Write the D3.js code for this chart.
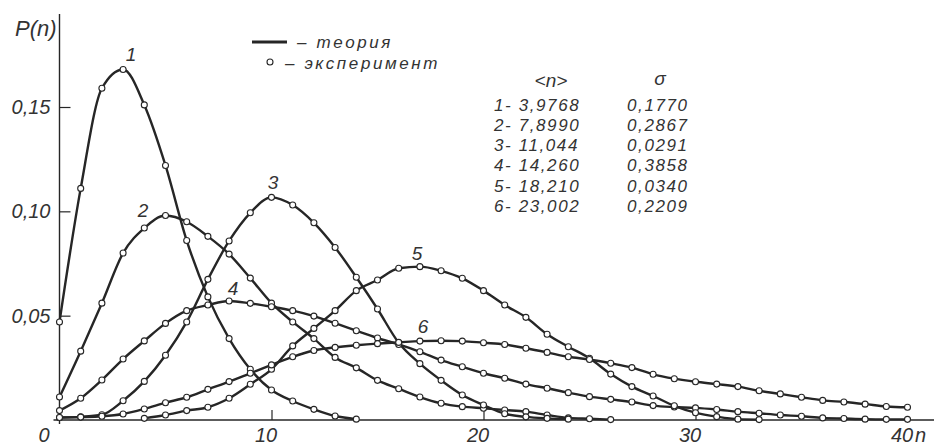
<!DOCTYPE html>
<html>
<head>
<meta charset="utf-8">
<script src="https://cdn.jsdelivr.net/npm/d3@7"></script>
<style>
  body { margin: 0; background: #fff; }
  svg text { font-family: "Liberation Sans", Arial, sans-serif; font-style: italic; fill: #333; }
</style>
</head>
<body>
<div id="chart"></div>
<script>
// P(n), one value per integer n, starting at curveStart[i]
const curve1 = [0.047, 0.111, 0.159, 0.168, 0.151, 0.122, 0.086, 0.059, 0.039, 0.0243, 0.0144, 0.0091, 0.0051, 0.0019, 0.0004];
const curve2 = [0.011, 0.033, 0.056, 0.080, 0.092, 0.098, 0.095, 0.088, 0.0795, 0.068, 0.056, 0.047, 0.039, 0.030, 0.025, 0.019,
                0.015, 0.011, 0.008, 0.0064, 0.0056, 0.0048, 0.004, 0.0024, 0.001, 0.0006, 0.0002];
const curve3 = [0.0012, 0.0015, 0.0025, 0.0092, 0.0185, 0.031, 0.047, 0.0674, 0.0858, 0.0993, 0.1067, 0.103, 0.0945, 0.0827,
                0.0684, 0.0532, 0.037, 0.027, 0.019, 0.012, 0.0072, 0.003, 0.0015, 0.0008, 0.0004];
const curve4 = [0.0045, 0.0104, 0.0192, 0.0292, 0.0379, 0.0463, 0.0524, 0.0551, 0.057, 0.0559, 0.0543, 0.0524, 0.0498, 0.0464,
                0.0428, 0.0393, 0.0362, 0.0327, 0.0287, 0.0255, 0.0224, 0.0200, 0.0172, 0.0152, 0.0131, 0.0112, 0.0099,
                0.0086, 0.0069, 0.0062, 0.0058, 0.0050, 0.0040, 0.0032, 0.0024, 0.0018, 0.0010, 0.0007, 0.0004, 0.0003, 0.0003];
const curve5 = [0.0008, 0.0024, 0.0045, 0.0061, 0.0104, 0.0171, 0.0243, 0.0355, 0.0439, 0.0524, 0.062, 0.0671, 0.0727, 0.0735,
                0.0715, 0.0679, 0.062, 0.0551, 0.0492, 0.0411, 0.0351, 0.0296, 0.022, 0.016, 0.0115, 0.0068, 0.0035, 0.0016,
                0.0004, 0.0002];
const curve6 = [0.0012, 0.0014, 0.0018, 0.0029, 0.0053, 0.0083, 0.0109, 0.0147, 0.0184, 0.0224, 0.0264, 0.0303, 0.0333, 0.0348,
                0.0358, 0.0366, 0.0372, 0.0378, 0.038, 0.0378, 0.037, 0.0362, 0.0344, 0.0324, 0.0303, 0.029, 0.0272, 0.0251,
                0.0219, 0.0198, 0.0183, 0.0172, 0.016, 0.014, 0.0125, 0.0109, 0.0094, 0.0086, 0.0076, 0.0065, 0.0061];
const curveStart = [0, 0, 0, 0, 4, 0];
const curveNames = ['1', '2', '3', '4', '5', '6'];

const meanN = ['3,9768', '7,8990', '11,044', '14,260', '18,210', '23,002'];
const sigma = ['0,1770', '0,2867', '0,0291', '0,3858', '0,0340', '0,2209'];

const xTicks = [0, 10, 20, 30, 40];
const yTicks = [0.05, 0.10, 0.15];
const yTickLabels = ['0,05', '0,10', '0,15'];
const legendLabels = ['– теория', '– эксперимент'];

const width = 934, height = 446;
const ink = '#262626';

const x = d3.scaleLinear().domain([0, 40]).range([59.5, 907.5]);
const y = d3.scaleLinear().domain([0, 0.15]).range([420, 107]);

const svg = d3.select('#chart')
    .append('svg')
    .attr('width', width)
    .attr('height', height);

// axes
const xAxis = svg.append('g')
    .attr('transform', `translate(0,${y(0)})`)
    .call(d3.axisBottom(x).tickValues(xTicks).tickSize(-10).tickPadding(8));
xAxis.select('.domain').remove();
xAxis.selectAll('.tick line').filter(d => d === 0 || d === 40).remove();
xAxis.selectAll('.tick line').attr('stroke', ink).attr('stroke-width', 1.2);
xAxis.selectAll('.tick text')
    .attr('font-size', 20)
    .attr('font-family', null)
    .attr('dx', d => d === 0 ? -16 : -6);

const yAxis = svg.append('g')
    .attr('transform', `translate(${x(0)},0)`)
    .call(d3.axisLeft(y).tickValues(yTicks).tickFormat((d, i) => yTickLabels[i]).tickSize(-11).tickPadding(9));
yAxis.select('.domain').remove();
yAxis.selectAll('.tick line').attr('stroke', ink).attr('stroke-width', 1.2);
yAxis.selectAll('.tick text')
    .attr('font-size', 20)
    .attr('font-family', null);

svg.append('line')
    .attr('x1', x(0) - 6).attr('x2', width)
    .attr('y1', y(0)).attr('y2', y(0))
    .attr('stroke', ink).attr('stroke-width', 1.4);
svg.append('line')
    .attr('x1', x(0)).attr('x2', x(0))
    .attr('y1', 14).attr('y2', y(0) + 4)
    .attr('stroke', ink).attr('stroke-width', 1.4);

svg.append('text')
    .attr('x', 15).attr('y', 36)
    .attr('font-size', 22)
    .text('P(n)');
svg.append('text')
    .attr('x', 915).attr('y', 442)
    .attr('font-size', 20)
    .text('n');

// curves: theory lines first, experimental circles on top
const series = [curve1, curve2, curve3, curve4, curve5, curve6].map((vals, i) =>
    vals.map((p, j) => ({ n: j + curveStart[i], p })));

const line = d3.line()
    .x(d => x(d.n))
    .y(d => y(d.p))
    .curve(d3.curveMonotoneX);

svg.append('g').selectAll('path')
    .data(series)
    .enter().append('path')
    .attr('d', line)
    .attr('fill', 'none')
    .attr('stroke', ink)
    .attr('stroke-width', 2.4);

svg.append('g').selectAll('circle')
    .data(series.flat())
    .enter().append('circle')
    .attr('cx', d => x(d.n))
    .attr('cy', d => y(d.p))
    .attr('r', 3)
    .attr('fill', '#fff')
    .attr('stroke', ink)
    .attr('stroke-width', 1.1);

// curve numbers
const labelAt = [[3.37, 0.175], [3.94, 0.1006], [10.07, 0.114], [8.18, 0.0632], [16.86, 0.080], [17.15, 0.0446]];
svg.append('g').selectAll('text')
    .data(curveNames)
    .enter().append('text')
    .attr('x', (d, i) => x(labelAt[i][0]))
    .attr('y', (d, i) => y(labelAt[i][1]))
    .attr('text-anchor', 'middle')
    .attr('dominant-baseline', 'central')
    .attr('font-size', 19)
    .text(d => d);

// legend
const legend = svg.append('g');
legend.append('line')
    .attr('x1', 252).attr('x2', 287)
    .attr('y1', 42).attr('y2', 42)
    .attr('stroke', ink).attr('stroke-width', 3);
legend.append('circle')
    .attr('cx', 270).attr('cy', 62).attr('r', 3)
    .attr('fill', '#fff').attr('stroke', ink).attr('stroke-width', 1.1);
legend.selectAll('text')
    .data(legendLabels)
    .enter().append('text')
    .attr('x', (d, i) => i === 0 ? 297 : 285)
    .attr('y', (d, i) => i === 0 ? 42 : 63)
    .attr('dominant-baseline', 'central')
    .attr('font-size', 17)
    .attr('letter-spacing', 2.6)
    .text(d => d);

// table of parameters
const table = svg.append('g');
table.append('text')
    .attr('x', 551).attr('y', 80)
    .attr('text-anchor', 'middle').attr('dominant-baseline', 'central')
    .attr('font-size', 19)
    .text('<n>');
table.append('text')
    .attr('x', 660).attr('y', 78)
    .attr('text-anchor', 'middle').attr('dominant-baseline', 'central')
    .attr('font-size', 19)
    .text('σ');
table.selectAll('.mean')
    .data(meanN)
    .enter().append('text')
    .attr('class', 'mean')
    .attr('x', 494)
    .attr('y', (d, i) => 105 + i * 20.3)
    .attr('dominant-baseline', 'central')
    .attr('font-size', 17)
    .attr('letter-spacing', 1.6)
    .text((d, i) => `${curveNames[i]}- ${d}`);
table.selectAll('.sigma')
    .data(sigma)
    .enter().append('text')
    .attr('class', 'sigma')
    .attr('x', 627)
    .attr('y', (d, i) => 105 + i * 20.3)
    .attr('dominant-baseline', 'central')
    .attr('font-size', 17)
    .attr('letter-spacing', 1.6)
    .text(d => d);
</script>
</body>
</html>
